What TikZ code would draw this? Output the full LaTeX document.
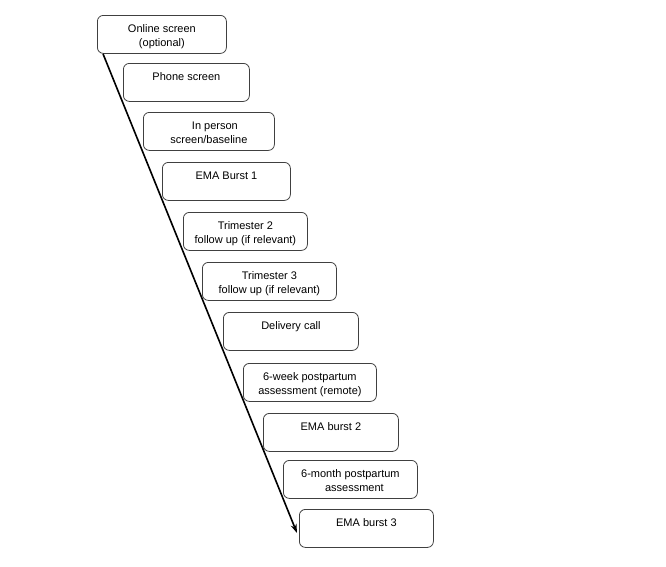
\documentclass[tikz,border=0pt]{standalone}
\usepackage{fontspec}
\setmainfont{Liberation Sans}
\usetikzlibrary{arrows.meta,positioning,calc}

\begin{document}
\begin{tikzpicture}[x=1pt,y=-1pt]%
\tikzstyle{stage}=[rectangle,rounded corners=6pt,draw=black!75,line width=0.8pt,
  anchor=north west,align=center,inner xsep=2pt,inner ysep=0pt,
  text height=17pt,text depth=21pt,minimum height=38pt,
  font=\fontsize{11}{14.5}\selectfont]
\tikzstyle{twoline}=[text height=31.5pt,text depth=6.5pt]
\useasboundingbox (0,0) rectangle (666,566);
\node[stage,twoline,minimum width=129pt] (online) at (97,15) {Online screen\\(optional)};
\node[stage,minimum width=126pt] (phone) at (123,63) {Phone screen};
\node[stage,twoline,minimum width=131pt] (person) at (143,112) {\hspace*{12pt}In person\\screen/baseline};
\node[stage,minimum width=128pt] (ema1) at (162,162) {EMA Burst 1};
\node[stage,twoline,minimum width=124pt] (tri2) at (183,212) {Trimester 2\\follow up (if relevant)};
\node[stage,twoline,minimum width=134pt] (tri3) at (202,262) {Trimester 3\\follow up (if relevant)};
\node[stage,minimum width=135pt] (delivery) at (223,312) {Delivery call};
\node[stage,twoline,minimum width=133pt] (week6) at (243,363) {6-week postpartum\\assessment (remote)};
\node[stage,minimum width=135pt] (ema2) at (263,413) {EMA burst 2};
\node[stage,twoline,minimum width=134pt] (month6) at (283,460) {6-month postpartum\\\hspace*{8pt}assessment};
\node[stage,minimum width=134pt] (ema3) at (299,509) {EMA burst 3};
\coordinate (tip) at ($(ema3.north west)+(-2,24)$);
\draw[-{Stealth[length=9pt,width=6pt]},line width=1.6pt] ([xshift=6pt]online.south west) -- (tip);
\end{tikzpicture}
\end{document}
